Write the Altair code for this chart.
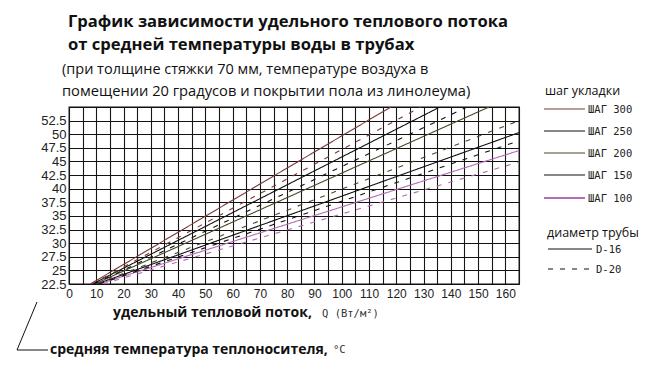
import altair as alt
import pandas as pd

# Pipe spacing (mm) and the two pipe diameters
steps = ["300", "250", "200", "150", "100"]
pipes = ["D-16", "D-20"]
step_colors = ["#7a3a3a", "#111111", "#4a4a2a", "#111111", "#b46cb4"]

# Each curve runs from the bottom of the grid (22.5 °C) up to its end point
t_low = 22.5
d16_q_start = [7.8, 8.6, 9.4, 10.2, 11.0]
d16_q_end = [118, 136, 154, 165, 165]
d16_t_end = [55.0, 55.0, 55.0, 50.3, 47.0]
d20_q_start = [8.4, 9.2, 10.0, 11.0, 12.4]
d20_q_end = [129, 146, 165, 165, 165]
d20_t_end = [55.0, 55.0, 52.5, 48.8, 44.9]

x_ticks = [0, 5, 10, 15, 20, 25, 30, 35, 40, 45, 50, 55, 60, 65, 70, 75, 80,
           85, 90, 95, 100, 105, 110, 115, 120, 125, 130, 135, 140, 145, 150,
           155, 160, 165]
y_ticks = [22.5, 25, 27.5, 30, 32.5, 35, 37.5, 40, 42.5, 45, 47.5, 50, 52.5, 55]

rows = []
for pipe, qs, qe, te in [("D-16", d16_q_start, d16_q_end, d16_t_end),
                         ("D-20", d20_q_start, d20_q_end, d20_t_end)]:
    for i, s in enumerate(steps):
        sid = f"{s} {pipe}"
        rows.append({"series": sid, "step": s, "pipe": pipe, "Q": qs[i], "T": t_low})
        rows.append({"series": sid, "step": s, "pipe": pipe, "Q": qe[i], "T": te[i]})
df = pd.DataFrame(rows)

# plot origin on the page
OX, OY = 69, 107
W, H = 450, 177

LABEL_FONT = "Liberation Sans"
TEXT_FONT = "Open Sans"

curves = alt.Chart(df).mark_line(strokeWidth=1.1, clip=True).encode(
    x=alt.X("Q:Q",
            scale=alt.Scale(domain=[0, 165], nice=False, zero=False),
            axis=alt.Axis(values=x_ticks, title=None, ticks=False, domain=False,
                          grid=True, gridColor="#1a1414", gridOpacity=1, gridWidth=1.1,
                          labelExpr="datum.value % 10 == 0 ? toString(datum.value) : ''",
                          labelFont=LABEL_FONT, labelFontSize=12, labelColor="#222",
                          labelPadding=4, labelFlush=False, labelOverlap=False)),
    y=alt.Y("T:Q",
            scale=alt.Scale(domain=[22.5, 55], nice=False, zero=False),
            axis=alt.Axis(values=y_ticks, title=None, ticks=False, domain=False,
                          grid=True, gridColor="#111111", gridOpacity=1, gridWidth=1.1,
                          labelExpr="datum.value >= 55 ? '' : toString(datum.value)",
                          labelFont=LABEL_FONT, labelFontSize=13, labelColor="#222",
                          labelPadding=3, labelFlush=False, labelOverlap=False)),
    color=alt.Color("step:N", scale=alt.Scale(domain=steps, range=step_colors), legend=None),
    strokeDash=alt.StrokeDash("pipe:N",
                              scale=alt.Scale(domain=pipes, range=[[1, 0], [5, 7]]),
                              legend=None),
    detail="series:N",
    order="Q:Q",
)

dummy = pd.DataFrame({"k": [0]})


def text(s, x, y, size, weight="normal", font=TEXT_FONT, color="#111", align="left"):
    return alt.Chart(dummy).mark_text(
        text=s, fontSize=size, fontWeight=weight, font=font, color=color,
        align=align, baseline="alphabetic"
    ).encode(x=alt.value(x - OX), y=alt.value(y - OY))


def seg(x1, y1, x2, y2, color="#111", width=1.0, dash=None):
    kw = {"color": color, "strokeWidth": width}
    if dash:
        kw["strokeDash"] = dash
    return alt.Chart(dummy).mark_rule(**kw).encode(
        x=alt.value(x1 - OX), y=alt.value(y1 - OY),
        x2=alt.value(x2 - OX), y2=alt.value(y2 - OY))


layers = [curves]

# headings
layers += [
    text("График зависимости удельного теплового потока", 68, 27, 16.6, "bold"),
    text("от средней температуры воды в трубах", 68, 50, 16.6, "bold"),
    text("(при толщине стяжки 70 мм, температуре воздуха в", 62, 74, 14.5),
    text("помещении 20 градусов и покрытии пола из линолеума)", 62, 96, 14.7),
]

# axis captions
layers += [
    text("удельный тепловой поток,", 113, 317, 14, "bold"),
    text("Q (Вт/м²)", 322, 317, 10.5, font="DejaVu Sans Mono", color="#333"),
    text("средняя температура теплоносителя,", 50, 354, 14, "bold"),
    text("°C", 333, 353, 10.5, font="DejaVu Sans Mono", color="#333"),
    seg(37, 302, 17, 350),
    seg(17, 350, 48, 350),
]

# legend: pipe spacing
layers.append(text("шаг укладки", 545, 95, 12.5))
leg_y = [109, 131, 153, 175, 198]
for s, c, y in zip(steps, step_colors, leg_y):
    layers.append(seg(544, y, 585, y, color=c, width=2 if s == "100" else 1.2))
    layers.append(text(f"ШАГ  {s}", 588, y + 4, 10.5, font="DejaVu Sans Mono", color="#222"))

# legend: pipe diameter
layers += [
    text("диаметр трубы", 547, 237, 12.5),
    seg(548, 249, 592, 249, width=1.2),
    text("D-16", 596, 253, 10.5, font="DejaVu Sans Mono", color="#222"),
    seg(548, 269, 592, 269, width=1.2, dash=[5, 7]),
    text("D-20", 596, 273, 10.5, font="DejaVu Sans Mono", color="#222"),
]

chart = alt.layer(*layers).properties(
    width=W, height=H,
    autosize="none",
    padding={"left": OX, "top": OY, "right": 657 - OX - W, "bottom": 372 - OY - H},
    background="white",
).configure_view(stroke="#111", strokeWidth=1.3)

chart.save("out.html", embed_options={"renderer": "svg", "actions": False})
